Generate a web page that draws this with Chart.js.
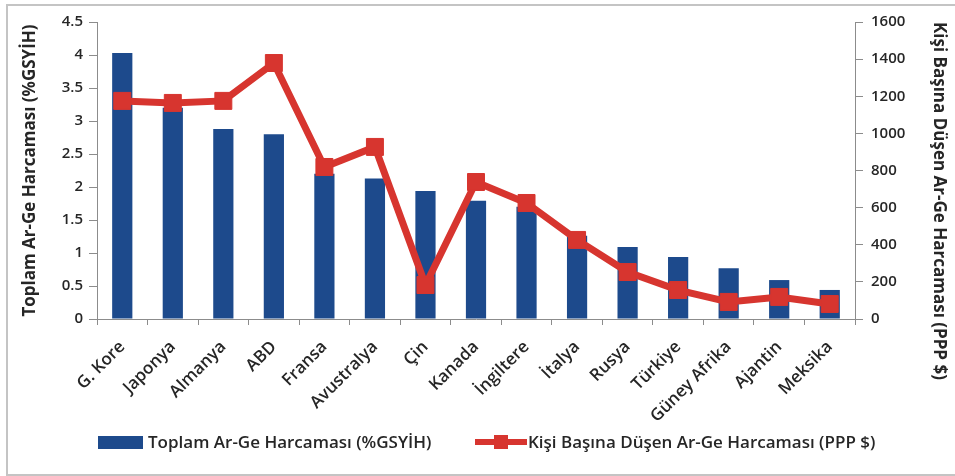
<!DOCTYPE html>
<html>
<head>
<meta charset="utf-8">
<script src="https://cdn.jsdelivr.net/npm/chart.js@4"></script>
<style>
  body { margin: 0; background: #fff; }
  #wrap { position: relative; width: 955px; height: 476px; overflow: hidden; }
  #frame { position: absolute; left: 6px; top: 4px; width: 960px; height: 472px; border: 2px solid #c4c4c4; box-sizing: border-box; }
  #myChart { position: absolute; left: 0; top: 0; }
  .legend { position: absolute; top: 430px; font: 600 17px "Open Sans", sans-serif; color: #262626; white-space: nowrap; }
  .legend .sym { display: inline-block; vertical-align: middle; position: relative; }
</style>
</head>
<body>
<div id="wrap">
  <div id="frame"></div>
  <canvas id="myChart" width="955" height="476"></canvas>
  <div class="legend" style="left:98px">
    <span class="sym" style="width:45px;height:13px;background:#1d4a8c;top:-1px"></span><span style="margin-left:5px">Toplam Ar-Ge Harcaması (%GSYİH)</span>
  </div>
  <div class="legend" style="left:475px">
    <span class="sym" style="width:52px;height:14px;top:-1px">
      <span style="position:absolute;left:0;top:4px;width:52px;height:6px;background:#d7352f"></span>
      <span style="position:absolute;left:19px;top:0;width:14px;height:14px;background:#d7352f"></span>
    </span><span style="margin-left:1px">Kişi Başına Düşen Ar-Ge Harcaması (PPP $)</span>
  </div>
</div>
<script>
// Chart data
const countries = ['G. Kore', 'Japonya', 'Almanya', 'ABD', 'Fransa', 'Avustralya', 'Çin', 'Kanada',
    'İngiltere', 'İtalya', 'Rusya', 'Türkiye', 'Güney Afrika', 'Ajantin', 'Meksika'];
const rdShareGdp = [4.03, 3.2, 2.88, 2.8, 2.2, 2.13, 1.94, 1.79, 1.7, 1.26, 1.09, 0.94, 0.77, 0.59, 0.44];
const rdPerCapita = [1175, 1164, 1175, 1379, 819, 927, 183, 738, 625, 426, 253, 156, 92, 119, 81];
const leftTitle = 'Toplam Ar-Ge Harcaması (%GSYİH)';
const rightTitle = 'Kişi Başına Düşen Ar-Ge Harcaması (PPP $)';

const blue = '#1d4a8c';
const red = '#d7352f';
const axisColor = '#8c8c8c';
const textColor = '#262626';
const fontFam = '"Open Sans", sans-serif';
const tickFont = { family: fontFam, size: 15, weight: '600' };

const ctx = document.getElementById("myChart").getContext("2d");
const myChart = new Chart(ctx, {
    data: {
        labels: countries,
        datasets: [{
            type: 'line',
            label: rightTitle,
            data: rdPerCapita,
            yAxisID: 'y1',
            borderColor: red,
            backgroundColor: red,
            borderWidth: 7,
            pointStyle: 'rect',
            pointRadius: 12,
            pointBorderWidth: 1,
            pointBorderColor: red,
            tension: 0,
            order: 0
        }, {
            type: 'bar',
            label: leftTitle,
            data: rdShareGdp,
            yAxisID: 'y',
            backgroundColor: blue,
            barPercentage: 0.4,
            categoryPercentage: 1,
            order: 1
        }]
    },
    options: {
        responsive: false,
        animation: false,
        layout: { padding: { left: 20, right: 6, top: 22, bottom: 0 } },
        plugins: { legend: { display: false }, tooltip: { enabled: false } },
        scales: {
            x: {
                grid: { offset: true, drawOnChartArea: false, color: axisColor, tickLength: 6 },
                border: { color: axisColor },
                ticks: { minRotation: 45, maxRotation: 45, padding: 12, color: textColor,
                    font: { family: fontFam, size: 17, weight: '600' } },
                afterFit: (s) => { s.height = 157; }
            },
            y: {
                position: 'left',
                min: 0, max: 4.5,
                ticks: { stepSize: 0.5, padding: 6, color: textColor, font: tickFont,
                    callback: (v) => String(v) },
                grid: { drawOnChartArea: false, color: axisColor, tickLength: 8 },
                border: { color: axisColor },
                title: { display: true, text: leftTitle, color: textColor, padding: { top: 0, bottom: 2 },
                    font: { family: fontFam, size: 17, weight: 'bold' } },
                afterFit: (s) => { s.width = 77; }
            },
            y1: {
                position: 'right',
                min: 0, max: 1600,
                ticks: { stepSize: 200, padding: 8, color: textColor, font: tickFont,
                    callback: (v) => String(v) },
                grid: { drawOnChartArea: false, color: axisColor, tickLength: 8 },
                border: { color: axisColor },
                title: { display: true, text: rightTitle, color: textColor, align: 'end', padding: { top: 0, bottom: 2 },
                    font: { family: fontFam, size: 17, weight: 'bold' } },
                afterFit: (s) => { s.width = 94; }
            }
        }
    }
});
</script>
</body>
</html>
